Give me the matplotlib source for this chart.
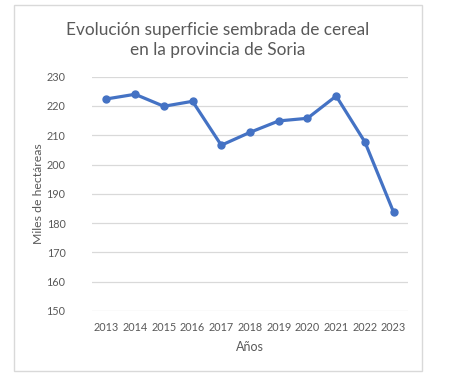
import matplotlib.pyplot as plt
from matplotlib.patches import Rectangle

years = ["2013", "2014", "2015", "2016", "2017", "2018",
         "2019", "2020", "2021", "2022", "2023"]
hectareas = [222.4, 224.0, 219.9, 221.6, 206.6, 211.0,
             214.9, 215.8, 223.4, 207.7, 183.7]
yticks = [150, 160, 170, 180, 190, 200, 210, 220, 230]

plt.rcParams["font.family"] = ["Lato", "DejaVu Sans"]
text_color = "#595959"
W, H = 449, 388

fig = plt.figure(figsize=(W / 100, H / 100), dpi=100)
fig.patches.append(Rectangle((14 / W, 1 - 371 / H), 408 / W, 366 / H,
                             transform=fig.transFigure, fill=False,
                             edgecolor="#D9D9D9", linewidth=1.0))

ax = fig.add_axes([92 / W, 77 / H, 316 / W, 234.3 / H])
x = list(range(len(years)))
ax.plot(x, hectareas, color="#4472C4", linewidth=2.3, marker="o",
        markersize=5, solid_joinstyle="round")
ax.set_xlim(-0.5, len(years) - 0.5)
ax.set_ylim(150, 230)
ax.set_yticks(yticks)
ax.set_xticks(x)
ax.set_xticklabels(years)
ax.grid(axis="y", color="#D9D9D9", linewidth=0.9)
ax.set_axisbelow(True)
for s in ax.spines.values():
    s.set_visible(False)
ax.tick_params(length=0, colors=text_color, labelsize=7.8)
ax.tick_params(axis="y", pad=19)
ax.tick_params(axis="x", pad=8)

fig.text(218 / W, 1 - 40 / H, "Evolución superficie sembrada de cereal\nen la provincia de Soria",
         ha="center", va="center", fontsize=12.4, color=text_color, linespacing=1.35)
fig.text(39 / W, 1 - 194 / H, "Miles de hectáreas", rotation=90, ha="center", va="center",
         fontsize=8.8, color=text_color)
fig.text(250 / W, 1 - 347 / H, "Años", ha="center", va="center", fontsize=9, color=text_color)

fig.savefig("out.png", dpi=100)
